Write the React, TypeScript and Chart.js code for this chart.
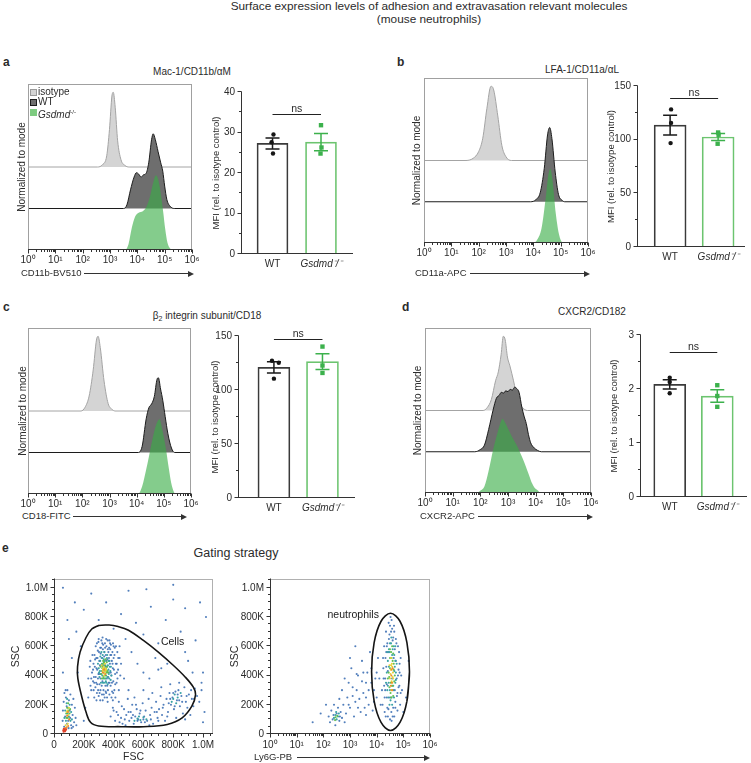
import React, { useEffect, useRef } from 'react';
import { Chart, registerables } from 'chart.js';

Chart.register(...registerables);

const FONT = '"Liberation Sans", Arial, Helvetica, sans-serif';
const INK = '#2b2b2b';
Chart.defaults.font.family = FONT;
Chart.defaults.color = INK;

/* ===================== DATA ===================== */
const GROUPS = ['WT', 'Gsdmd⁻/⁻'];

const LOG_TICKS = [1, 10, 100, 1000, 10000, 100000, 1000000];
const LOG_TICK_LABELS = ['10⁰', '10¹', '10²', '10³', '10⁴', '10⁵', '10⁶'];
const LOG_MINOR_TICKS = [0, 1, 2, 3, 4, 5].flatMap((e) => [2, 3, 4, 5, 6, 7, 8, 9].map((m) => m * 10 ** e));

// histograms: [log10 fluorescence, height relative to mode]
const cd11bIso = [[0, 0], [2.55, 0], [2.72, 0.03], [2.88, 0.15], [2.98, 0.5], [3.07, 0.95], [3.12, 1], [3.19, 0.8], [3.28, 0.35], [3.4, 0.1], [3.55, 0.02], [3.7, 0], [6, 0]];
const cd11bWT = [[0, 0], [3.5, 0], [3.62, 0.05], [3.75, 0.25], [3.88, 0.42], [3.97, 0.48], [4.05, 0.46], [4.14, 0.42], [4.22, 0.45], [4.32, 0.47], [4.42, 0.62], [4.52, 0.92], [4.58, 1], [4.66, 0.92], [4.76, 0.76], [4.85, 0.62], [4.93, 0.5], [5, 0.3], [5.08, 0.12], [5.2, 0.03], [5.35, 0], [6, 0]];
const cd11bKO = [[0, 0], [3.55, 0], [3.68, 0.08], [3.8, 0.3], [3.92, 0.45], [4.05, 0.5], [4.2, 0.52], [4.32, 0.57], [4.45, 0.7], [4.58, 0.9], [4.68, 1], [4.78, 0.92], [4.88, 0.7], [4.95, 0.5], [5.02, 0.28], [5.1, 0.1], [5.2, 0.02], [5.3, 0], [6, 0]];

const cd11aIso = [[0, 0], [1.5, 0], [1.8, 0.03], [2.0, 0.12], [2.15, 0.3], [2.3, 0.7], [2.45, 1], [2.55, 0.95], [2.7, 0.6], [2.85, 0.2], [3.0, 0.05], [3.2, 0], [6, 0]];
const cd11aWT = [[0, 0], [3.9, 0], [4.1, 0.03], [4.25, 0.12], [4.4, 0.45], [4.52, 0.9], [4.6, 1], [4.68, 0.85], [4.8, 0.4], [4.92, 0.1], [5.05, 0.02], [5.15, 0], [6, 0]];
const cd11aKO = [[0, 0], [4.0, 0], [4.15, 0.05], [4.3, 0.2], [4.45, 0.6], [4.55, 0.92], [4.62, 1], [4.7, 0.85], [4.82, 0.4], [4.95, 0.1], [5.1, 0], [6, 0]];

const cd18Iso = [[0, 0], [1.95, 0], [2.1, 0.05], [2.25, 0.2], [2.4, 0.55], [2.52, 0.95], [2.58, 1], [2.66, 0.85], [2.8, 0.4], [2.95, 0.1], [3.1, 0.02], [3.2, 0], [6, 0]];
const cd18WT = [[0, 0], [4.05, 0], [4.2, 0.08], [4.35, 0.45], [4.45, 0.6], [4.55, 0.65], [4.65, 0.75], [4.75, 0.98], [4.8, 1], [4.88, 0.85], [4.96, 0.7], [5.05, 0.48], [5.15, 0.25], [5.28, 0.06], [5.4, 0], [6, 0]];
const cd18KO = [[0, 0], [4.05, 0], [4.2, 0.1], [4.34, 0.31], [4.45, 0.5], [4.59, 0.75], [4.72, 0.93], [4.84, 1], [4.95, 0.85], [5.08, 0.6], [5.18, 0.35], [5.27, 0.15], [5.38, 0.02], [5.45, 0], [6, 0]];

const cxcr2Iso = [[0, 0], [2.1, 0], [2.25, 0.04], [2.4, 0.15], [2.55, 0.4], [2.65, 0.52], [2.75, 0.75], [2.83, 1], [2.9, 0.95], [2.98, 0.72], [3.07, 0.6], [3.2, 0.4], [3.35, 0.15], [3.5, 0.05], [3.7, 0], [6, 0]];
const cxcr2WT = [[0, 0], [1.8, 0], [2.0, 0.03], [2.15, 0.09], [2.3, 0.3], [2.46, 0.56], [2.58, 0.72], [2.68, 0.76], [2.76, 0.8], [2.84, 0.79], [2.92, 0.82], [3.0, 0.81], [3.08, 0.84], [3.16, 0.83], [3.24, 0.87], [3.32, 0.85], [3.4, 0.8], [3.5, 0.6], [3.58, 0.48], [3.66, 0.38], [3.74, 0.23], [3.82, 0.12], [3.95, 0.05], [4.06, 0.02], [4.2, 0], [6, 0]];
const cxcr2KO = [[0, 0], [1.85, 0], [2.0, 0.03], [2.15, 0.09], [2.3, 0.3], [2.46, 0.58], [2.64, 0.84], [2.75, 0.97], [2.8, 1], [2.88, 0.96], [2.95, 0.91], [3.05, 0.83], [3.14, 0.76], [3.23, 0.7], [3.32, 0.64], [3.42, 0.56], [3.5, 0.49], [3.6, 0.4], [3.69, 0.31], [3.78, 0.22], [3.87, 0.13], [3.96, 0.07], [4.06, 0.04], [4.18, 0], [6, 0]];

// MFI (rel. to isotype control), individual mice
const cd11bMfiWT = [29.5, 27.6, 24.8];
const cd11bMfiKO = [31.8, 26.3, 24.8];
const cd11aMfiWT = [128.2, 115.6, 96.8];
const cd11aMfiKO = [106.7, 104.6, 96.2];
const cd18MfiWT = [127.1, 125.3, 110.5];
const cd18MfiKO = [140.2, 122.7, 115.8];
const cxcr2MfiWT = [2.21, 2.13, 1.92];
const cxcr2MfiKO = [2.07, 1.87, 1.67];

const cd11bYTicks = [0, 10, 20, 30, 40];
const cd11bYMinor = [5, 15, 25, 35];
const cd11aYTicks = [0, 50, 100, 150];
const cd11aYMinor = [25, 75, 125];
const cd18YTicks = [0, 50, 100, 150];
const cd18YMinor = [25, 75, 125];
const cxcr2YTicks = [0, 1, 2, 3];
const cxcr2YMinor = [0.5, 1.5, 2.5];

// gating plots
const SCATTER_TICKS = [0, 200000, 400000, 600000, 800000, 1000000];
const SCATTER_TICK_LABELS = ['0', '200K', '400K', '600K', '800K', '1.0M'];
const SCATTER_MINOR = [50, 100, 150, 250, 300, 350, 450, 500, 550, 650, 700, 750, 850, 900, 950, 1050].map((k) => k * 1000);

// FSC (K) / SSC (K)
const fscBlue = [
  [250, 300], [255, 420], [262, 360], [265, 480], [270, 250], [272, 540], [278, 320], [280, 600], [285, 450], [288, 280], [292, 520], [295, 380], [298, 630], [300, 260], [302, 560], [305, 340], [308, 470], [310, 590], [312, 300], [315, 410], [318, 640], [320, 520], [322, 270], [325, 360], [328, 580], [330, 610], [332, 300], [335, 490], [338, 560], [340, 250], [342, 620], [345, 330], [348, 540], [350, 280], [352, 600], [355, 380], [358, 510], [360, 640], [362, 300], [365, 560], [368, 420], [370, 590], [372, 270], [375, 480], [378, 540], [380, 330], [382, 610], [385, 400], [388, 500], [390, 290], [392, 560], [395, 450], [398, 360], [400, 520], [405, 300], [408, 590], [410, 410], [415, 480], [420, 350], [425, 560], [430, 440], [435, 300], [440, 520], [268, 390], [276, 510], [283, 350], [290, 440], [296, 300], [303, 410], [313, 550], [327, 230], [344, 460], [356, 250], [366, 350], [376, 620], [386, 250], [396, 620], [412, 250], [422, 420], [230, 380], [240, 460], [245, 330],
  [262, 440], [270, 350], [274, 460], [280, 390], [284, 520], [290, 340], [294, 570], [298, 410], [304, 500], [306, 280], [312, 380], [316, 590], [320, 330], [324, 620], [328, 470], [334, 270], [337, 530], [343, 590], [347, 290], [351, 500], [357, 330], [361, 580], [364, 390], [369, 520], [373, 350], [377, 580], [381, 420], [384, 540], [389, 350], [393, 480], [397, 280], [402, 440], [406, 540], [411, 340], [416, 600], [421, 480], [426, 380], [431, 520], [258, 540], [266, 300], [288, 620], [300, 650], [326, 660], [350, 650], [372, 640], [400, 600], [445, 400], [450, 480], [285, 230], [310, 230], [360, 220], [395, 230], [250, 380], [244, 500],
  [60, 160], [65, 220], [70, 280], [75, 120], [80, 250], [85, 190], [90, 300], [95, 90], [100, 230], [105, 160], [110, 270], [115, 60], [120, 200], [125, 130], [130, 240], [135, 80], [140, 180], [58, 90], [68, 50], [78, 300], [88, 70], [98, 40], [108, 110], [118, 40], [128, 50], [145, 110], [150, 60],
  [380, 120], [395, 180], [410, 90], [420, 150], [435, 220], [450, 110], [460, 70], [470, 170], [485, 130], [495, 240], [505, 90], [515, 150], [525, 200], [535, 70], [545, 120], [555, 170], [565, 100], [575, 140], [585, 80], [595, 210], [605, 120], [615, 160], [625, 90], [635, 240], [645, 130], [655, 180], [665, 70], [675, 150], [685, 220], [695, 110], [705, 170], [715, 260], [725, 130], [735, 200], [745, 90], [755, 240], [765, 150], [775, 280], [785, 200], [795, 250], [805, 170], [815, 290], [825, 230], [835, 300], [845, 190], [855, 260], [865, 140], [875, 320], [885, 220], [895, 180], [905, 270], [915, 130], [925, 240], [935, 190], [945, 310], [960, 260], [975, 220], [990, 300], [440, 80], [480, 60], [520, 110], [560, 90], [600, 100], [640, 60], [700, 90], [760, 120], [820, 110], [880, 100], [540, 250], [600, 300], [660, 280], [720, 320], [780, 340], [840, 350],
  [400, 160], [430, 130], [455, 190], [475, 100], [500, 150], [530, 130], [550, 200], [580, 160], [610, 80], [650, 100], [690, 150], [730, 180], [770, 210], [800, 280], [830, 270], [860, 220], [890, 260], [920, 300], [940, 240], [810, 190], [780, 240], [840, 230],
  [150, 700], [200, 850], [250, 960], [300, 780], [350, 900], [400, 720], [450, 820], [500, 980], [550, 760], [600, 680], [650, 870], [700, 620], [750, 780], [800, 920], [850, 700], [900, 500], [950, 640], [1000, 420], [1020, 800], [980, 900], [120, 520], [160, 420], [180, 600], [140, 900], [60, 1000], [90, 780], [210, 180], [230, 250], [200, 90], [480, 650], [520, 560], [560, 480], [600, 420], [640, 380], [680, 520], [720, 450], [760, 480], [880, 560], [930, 420], [990, 350], [1010, 150], [1000, 80], [470, 380], [500, 300], [440, 600], [60, 420], [100, 650], [800, 1020], [620, 990], [700, 440], [880, 860],
];
const fscTeal = [
  [300, 450], [305, 390], [310, 500], [315, 350], [320, 430], [322, 480], [325, 520], [330, 380], [332, 440], [336, 350], [340, 500], [342, 400], [345, 470], [348, 360], [352, 430], [355, 520], [358, 390], [362, 470], [365, 440], [370, 380], [372, 500], [378, 430], [382, 460], [318, 560], [338, 560], [308, 430], [360, 340], [295, 480], [385, 400],
  [302, 420], [312, 410], [316, 470], [324, 400], [328, 350], [334, 510], [346, 380], [350, 350], [354, 460], [366, 500], [368, 410], [374, 460], [380, 370], [311, 530], [327, 540], [357, 540],
  [75, 160], [80, 90], [85, 210], [90, 140], [95, 180], [100, 120], [105, 200], [110, 90], [115, 150], [88, 240], [120, 100], [70, 110],
  [560, 105], [580, 95], [600, 115], [540, 90], [620, 100], [800, 240], [810, 270], [830, 250], [790, 220], [820, 210], [850, 280], [570, 120],
];
const fscGreen = [
  [318, 410], [326, 460], [333, 420], [338, 470], [344, 430], [350, 400], [356, 460], [340, 380], [330, 500], [346, 510], [362, 420], [322, 380], [312, 460], [354, 490],
  [324, 450], [332, 390], [336, 490], [348, 450], [352, 420], [358, 430], [328, 480], [342, 450],
  [82, 140], [88, 180], [92, 110], [98, 160], [104, 140], [84, 110], [108, 170], [95, 210],
];
const fscYellow = [[330, 440], [338, 420], [345, 450], [335, 400], [325, 430], [342, 480], [350, 440], [320, 470], [334, 460], [346, 430], [340, 440], [328, 450], [90, 160], [96, 130], [86, 150], [100, 180], [78, 60], [92, 70]];
const fscOrange = [[336, 440], [344, 410], [328, 420], [88, 125], [94, 150], [75, 40], [85, 45], [95, 55], [102, 100]];
const fscRed = [[62, 25], [68, 20], [72, 30], [78, 25], [66, 35], [74, 18], [82, 32], [64, 15]];

// Ly6G (log10) / SSC (K)
const ly6gBlue = [
  [4.2, 300], [4.25, 450], [4.22, 200], [4.28, 600], [4.3, 150], [4.32, 380], [4.35, 700], [4.33, 520], [4.38, 250], [4.4, 620], [4.42, 120], [4.45, 760], [4.48, 680], [4.5, 100], [4.52, 800], [4.55, 150], [4.58, 720], [4.6, 640], [4.62, 180], [4.65, 740], [4.68, 580], [4.7, 220], [4.72, 500], [4.75, 380], [4.78, 280], [4.8, 600], [4.82, 440], [4.85, 330], [4.88, 200], [4.9, 520], [4.92, 400], [4.95, 300], [4.36, 460], [4.26, 380], [4.44, 560], [4.74, 620], [4.86, 480], [4.3, 250], [4.56, 90], [4.66, 120], [4.4, 180], [4.34, 120], [4.78, 160], [4.84, 560], [4.24, 520],
  [4.32, 300], [4.38, 340], [4.36, 560], [4.42, 430], [4.46, 650], [4.5, 250], [4.54, 700], [4.58, 380], [4.62, 660], [4.64, 520], [4.68, 300], [4.72, 650], [4.76, 260], [4.8, 400], [4.82, 320], [4.86, 420], [4.7, 180], [4.6, 120], [4.5, 740], [4.44, 170], [4.38, 600], [4.28, 330], [4.9, 280], [4.66, 700], [4.56, 780],
  [2.2, 120], [2.25, 80], [2.3, 160], [2.35, 100], [2.4, 200], [2.45, 60], [2.5, 140], [2.55, 180], [2.6, 90], [2.65, 150], [2.7, 110], [2.75, 200], [2.8, 80], [2.85, 140], [2.38, 130], [2.62, 120],
  [2.9, 250], [3.0, 180], [3.1, 320], [3.2, 220], [3.3, 400], [3.4, 150], [3.5, 280], [3.6, 350], [3.7, 200], [3.8, 450], [3.9, 300], [4.0, 250], [4.1, 380], [3.05, 450], [3.25, 300], [3.45, 500], [3.65, 420], [3.85, 160], [4.05, 520], [2.95, 350], [3.15, 120], [3.35, 240], [3.55, 180], [3.75, 560], [3.95, 380], [4.15, 200], [3.0, 520], [3.5, 420], [2.7, 300], [2.8, 380], [2.1, 200], [1.6, 80], [1.9, 140], [5.1, 250], [5.2, 500], [5.0, 150], [3.2, 600], [3.6, 130], [2.6, 240],
  [3.1, 260], [3.3, 180], [3.45, 360], [3.7, 300], [3.9, 220], [4.0, 420], [3.8, 350], [3.6, 250], [2.95, 200], [3.25, 410],
];
const ly6gTeal = [
  [4.35, 350], [4.38, 420], [4.4, 300], [4.42, 500], [4.44, 250], [4.46, 580], [4.48, 200], [4.5, 620], [4.55, 660], [4.6, 580], [4.65, 250], [4.68, 460], [4.7, 350], [4.72, 420], [4.66, 540], [4.4, 560], [4.52, 230], [4.62, 300], [4.75, 480], [4.58, 200], [4.45, 350], [4.7, 600],
  [4.42, 330], [4.46, 460], [4.5, 300], [4.54, 620], [4.58, 540], [4.62, 330], [4.66, 430], [4.72, 370], [4.48, 560], [4.56, 250], [4.64, 600], [4.7, 500],
  [2.4, 110], [2.45, 130], [2.5, 100], [2.55, 120], [2.48, 150], [2.58, 140],
];
const ly6gGreen = [[4.45, 420], [4.48, 320], [4.5, 520], [4.52, 280], [4.54, 560], [4.56, 330], [4.6, 500], [4.62, 260], [4.64, 440], [4.66, 360], [4.42, 380], [4.58, 600], [4.5, 450], [4.68, 400], [4.47, 390], [4.52, 350], [4.56, 520], [4.6, 330], [4.64, 480], [4.62, 550], [4.54, 250], [4.5, 580], [2.46, 115], [2.52, 125], [2.44, 95]];
const ly6gYellow = [[4.5, 380], [4.53, 440], [4.55, 300], [4.57, 480], [4.59, 350], [4.61, 420], [4.54, 520], [4.62, 380], [4.48, 470], [4.52, 410], [4.58, 460], [4.56, 360], [4.6, 390], [4.54, 470]];
const ly6gOrange = [[4.55, 400], [4.57, 350], [4.53, 330], [4.6, 450], [4.56, 440], [4.58, 300]];

// gate outlines
const cellsGate = [[300, 742], [370, 745], [430, 735], [500, 710], [600, 640], [700, 560], [800, 470], [880, 390], [935, 320], [950, 270], [925, 190], [860, 110], [760, 65], [600, 50], [450, 50], [300, 55], [245, 80], [215, 150], [185, 260], [160, 380], [158, 460], [175, 560], [215, 660], [255, 720]];
const neutroGate = [[5.23, 425], [5.135, 625], [4.875, 771], [4.52, 826], [4.165, 771], [3.905, 625], [3.81, 425], [3.905, 225], [4.165, 79], [4.52, 24], [4.875, 79], [5.135, 225]];

/* ===================== HELPERS ===================== */
const mean = (a: number[]) => a.reduce((s, v) => s + v, 0) / a.length;
const sem = (a: number[]) => {
  const m = mean(a);
  return Math.sqrt(a.reduce((s, v) => s + (v - m) ** 2, 0) / (a.length - 1)) / Math.sqrt(a.length);
};
const closed = (p: number[][]) => [p[p.length - 1], ...p, p[0]];

const decor = {
  id: 'decor',
  afterDatasetDraw(chart: any, args: any, o: any) {
    if (!o || !o.err || args.index !== o.errAfter) return;
    const { ctx } = chart;
    const sx = chart.scales.x, sy = chart.scales.y;
    ctx.save();
    ctx.lineWidth = 1.5;
    o.err.forEach((e: any) => {
      const px = sx.getPixelForValue(e.x);
      const yt = sy.getPixelForValue(e.mean + e.sem);
      const yb = sy.getPixelForValue(e.mean - e.sem);
      ctx.strokeStyle = e.color;
      ctx.beginPath();
      ctx.moveTo(px, yt); ctx.lineTo(px, yb);
      ctx.moveTo(px - o.cap, yt); ctx.lineTo(px + o.cap, yt);
      ctx.moveTo(px - o.cap, yb); ctx.lineTo(px + o.cap, yb);
      ctx.stroke();
    });
    ctx.restore();
  },
  afterDraw(chart: any, _a: any, o: any) {
    if (!o) return;
    const { ctx, chartArea: a } = chart;
    const sx = chart.scales.x, sy = chart.scales.y;
    ctx.save();
    ctx.lineWidth = 1;
    if (o.frame) {
      ctx.strokeStyle = o.frame;
      ctx.strokeRect(Math.round(a.left) + 0.5, Math.round(a.top) + 0.5, Math.round(a.right - a.left) - 1, Math.round(a.bottom - a.top) - 1);
    }
    const b = Math.round(a.bottom) - 0.5;
    const l = Math.round(a.left) + 0.5;
    ctx.strokeStyle = o.axisColor || '#333';
    ctx.beginPath();
    if (o.axisX) { ctx.moveTo(a.left, b); ctx.lineTo(a.right, b); }
    if (o.axisY) { ctx.moveTo(l, a.top - 0.5); ctx.lineTo(l, a.bottom); }
    const tx = (vals: number[], len: number) => vals.forEach((v) => {
      const p = Math.round(sx.getPixelForValue(v)) + 0.5;
      ctx.moveTo(p, b); ctx.lineTo(p, b + len);
    });
    const ty = (vals: number[], len: number) => vals.forEach((v) => {
      const p = Math.round(sy.getPixelForValue(v)) - 0.5;
      ctx.moveTo(l, p); ctx.lineTo(l - len, p);
    });
    tx(o.xMajor || [], 4); tx(o.xMinor || [], 2.5);
    ty(o.yMajor || [], 4); ty(o.yMinor || [], 2.5);
    ctx.stroke();
    if (o.ns) {
      const y = Math.round(sy.getPixelForValue(o.ns.y)) + 0.5;
      const x0 = sx.getPixelForValue(o.ns.from), x1 = sx.getPixelForValue(o.ns.to);
      ctx.strokeStyle = '#222';
      ctx.beginPath(); ctx.moveTo(x0, y); ctx.lineTo(x1, y); ctx.stroke();
      ctx.fillStyle = INK;
      ctx.font = `10.5px ${FONT}`;
      ctx.textAlign = 'center';
      ctx.textBaseline = 'alphabetic';
      ctx.fillText('ns', (x0 + x1) / 2, y - 3);
    }
    (o.notes || []).forEach((n: any) => {
      ctx.fillStyle = '#1a1a1a';
      ctx.font = `10.5px ${FONT}`;
      ctx.textAlign = 'center';
      ctx.textBaseline = 'middle';
      ctx.fillText(n.text, sx.getPixelForValue(n.x), sy.getPixelForValue(n.y));
    });
    ctx.restore();
  },
};

const NOGRID = { display: false, drawTicks: false };
const NOBORDER = { display: false };
const base = (m: any) => ({
  animation: false,
  responsive: false,
  events: [],
  layout: { padding: { top: m.t, right: m.r, left: 0, bottom: 0 } },
});

/* ===================== CONFIG BUILDERS ===================== */
const ISO_STYLE = { borderColor: '#a4a4a4', borderWidth: 1, backgroundColor: '#d4d4d4' };
const WT_STYLE = { borderColor: '#1c1c1c', borderWidth: 1, backgroundColor: '#6e6e6e' };
const KO_STYLE = { borderColor: 'rgba(0,0,0,0)', borderWidth: 0, backgroundColor: 'rgba(56,172,70,0.62)' };
const TICK_FONT = { size: 10 };

function histConfig(iso: number[][], wt: number[][], ko: number[][], m: any) {
  const PEAK = 1.8;
  const mk = (rows: number[][], off: number, style: any) => ({
    data: rows.map(([lx, h]) => ({ x: 10 ** lx, y: off + h * PEAK })),
    fill: { value: off },
    pointRadius: 0,
    cubicInterpolationMode: 'monotone',
    ...style,
  });
  return {
    type: 'line',
    data: { datasets: [mk(ko, 0, KO_STYLE), mk(wt, 1, WT_STYLE), mk(iso, 2, ISO_STYLE)] },
    options: {
      ...base(m),
      plugins: {
        legend: { display: false }, tooltip: { enabled: false },
        decor: { frame: '#a0a0a0', axisX: true, axisColor: '#333', xMajor: LOG_TICKS, xMinor: LOG_MINOR_TICKS },
      },
      scales: {
        x: {
          type: 'logarithmic', min: 1, max: 1e6, grid: NOGRID, border: NOBORDER,
          ticks: { padding: 4, color: INK, font: TICK_FONT, autoSkip: false, maxRotation: 0, callback: (v: number) => LOG_TICK_LABELS[LOG_TICKS.indexOf(v)] ?? '' },
          afterBuildTicks: (s: any) => { s.ticks = LOG_TICKS.map((v) => ({ value: v })); },
          afterFit: (s: any) => { s.height = m.b; s.paddingLeft = 0; s.paddingRight = 0; },
        },
        y: {
          min: 0, max: 4, grid: NOGRID, border: NOBORDER, ticks: { display: false },
          title: { display: true, text: 'Normalized to mode', color: INK, font: { size: 10 }, padding: 0 },
          afterFit: (s: any) => { s.width = m.l; },
        },
      },
    },
  };
}

function barConfig(s: any, m: any) {
  return {
    type: 'bar',
    data: {
      datasets: [
        { type: 'scatter', data: s.wt.map((v: number, i: number) => ({ x: 0 + s.jit[0][i], y: v })), pointStyle: 'circle', pointRadius: 2.2, backgroundColor: '#161616', borderWidth: 0 },
        { type: 'scatter', data: s.ko.map((v: number, i: number) => ({ x: 1 + s.jit[1][i], y: v })), pointStyle: 'rect', pointRadius: 3.1, backgroundColor: '#3cb14c', borderWidth: 0 },
        {
          type: 'bar', data: [{ x: 0, y: mean(s.wt) }, { x: 1, y: mean(s.ko) }],
          backgroundColor: '#ffffff', borderColor: ['#3a3a3a', '#6cc46f'], borderWidth: 1.7, barThickness: s.barW,
        },
      ],
    },
    options: {
      ...base(m),
      plugins: {
        legend: { display: false }, tooltip: { enabled: false },
        decor: {
          axisX: true, axisY: true, axisColor: '#333', yMajor: s.yTicks, yMinor: s.yMinor,
          ns: { y: s.nsY, from: 0, to: 1 }, errAfter: 2, cap: 7,
          err: [
            { x: 0, mean: mean(s.wt), sem: sem(s.wt), color: '#1a1a1a' },
            { x: 1, mean: mean(s.ko), sem: sem(s.ko), color: '#3cb14c' },
          ],
        },
      },
      scales: {
        x: {
          type: 'linear', min: s.xMin, max: s.xMax, offset: false, grid: NOGRID, border: NOBORDER,
          ticks: {
            padding: 4, color: INK, autoSkip: false, maxRotation: 0,
            font: (c: any) => ({ family: FONT, size: 10, style: c.index === 1 ? 'italic' : 'normal' }),
            callback: (v: number) => GROUPS[v] ?? '',
          },
          afterBuildTicks: (sc: any) => { sc.ticks = GROUPS.map((_, i) => ({ value: i })); },
          afterFit: (sc: any) => { sc.height = m.b; sc.paddingLeft = 0; sc.paddingRight = 0; },
        },
        y: {
          min: 0, max: s.yTicks[s.yTicks.length - 1], grid: NOGRID, border: NOBORDER,
          ticks: { padding: 6, color: INK, font: TICK_FONT, callback: (v: number) => String(v) },
          afterBuildTicks: (sc: any) => { sc.ticks = s.yTicks.map((v: number) => ({ value: v })); },
          title: { display: true, text: 'MFI (rel. to isotype control)', color: INK, font: { size: 9.5 }, padding: 0 },
          afterFit: (sc: any) => { sc.width = m.l; },
        },
      },
    },
  };
}

const DENSITY = ['#e2432b', '#f08c2a', '#e7d23a', '#62bf52', '#3aa3a6', 'rgba(52,104,176,0.85)'];

function scatterConfig(s: any, m: any) {
  const layers = s.layers.map((pts: any[], i: number) => ({
    data: pts.map(([x, y]: number[]) => ({ x: s.log ? 10 ** x : x * 1000, y: y * 1000 })),
    pointRadius: 1.05, borderWidth: 0, backgroundColor: DENSITY[i],
  }));
  const gate = {
    type: 'line', data: closed(s.gate).map(([x, y]) => ({ x: s.log ? 10 ** x : x * 1000, y: y * 1000 })),
    showLine: true, borderColor: '#151515', borderWidth: 1.6, pointRadius: 0, tension: 0.35, fill: false,
  };
  return {
    type: 'scatter',
    data: { datasets: [gate, ...layers] },
    options: {
      ...base(m),
      plugins: {
        legend: { display: false }, tooltip: { enabled: false },
        decor: {
          frame: '#b0b0b0', axisX: true, axisY: true, axisColor: '#333',
          xMajor: s.log ? LOG_TICKS : SCATTER_TICKS, xMinor: s.log ? LOG_MINOR_TICKS : SCATTER_MINOR,
          yMajor: SCATTER_TICKS, yMinor: SCATTER_MINOR, notes: [s.note],
        },
      },
      scales: {
        x: s.log ? {
          type: 'logarithmic', min: 1, max: 1e6, grid: NOGRID, border: NOBORDER,
          ticks: { padding: 5, color: INK, font: TICK_FONT, autoSkip: false, maxRotation: 0, callback: (v: number) => LOG_TICK_LABELS[LOG_TICKS.indexOf(v)] ?? '' },
          afterBuildTicks: (sc: any) => { sc.ticks = LOG_TICKS.map((v) => ({ value: v })); },
          afterFit: (sc: any) => { sc.height = m.b; sc.paddingLeft = 0; sc.paddingRight = 0; },
        } : {
          type: 'linear', min: 0, max: s.xMax, grid: NOGRID, border: NOBORDER,
          ticks: { padding: 5, color: INK, font: TICK_FONT, autoSkip: false, maxRotation: 0, callback: (v: number) => SCATTER_TICK_LABELS[SCATTER_TICKS.indexOf(v)] ?? '' },
          afterBuildTicks: (sc: any) => { sc.ticks = SCATTER_TICKS.map((v) => ({ value: v })); },
          title: { display: true, text: 'FSC', color: INK, font: { size: 10.5, lineHeight: 1 }, padding: 0 },
          afterFit: (sc: any) => { sc.height = m.b; sc.paddingLeft = 0; sc.paddingRight = 0; },
        },
        y: {
          type: 'linear', min: 0, max: s.yMax, grid: NOGRID, border: NOBORDER,
          ticks: { padding: 6, color: INK, font: TICK_FONT, callback: (v: number) => SCATTER_TICK_LABELS[SCATTER_TICKS.indexOf(v)] ?? '' },
          afterBuildTicks: (sc: any) => { sc.ticks = SCATTER_TICKS.map((v) => ({ value: v })); },
          title: { display: true, text: 'SSC', color: INK, font: { size: 10.5 }, padding: 0 },
          afterFit: (sc: any) => { sc.width = m.l; },
        },
      },
    },
  };
}

/* ===================== LAYOUT ===================== */
type Area = { x0: number; y0: number; x1: number; y1: number };
type Marg = { l: number; t: number; r: number; b: number };

function ChartBox({ area, m, build }: { area: Area; m: Marg; build: (m: Marg) => any }) {
  const ref = useRef<HTMLCanvasElement>(null);
  const w = area.x1 - area.x0 + m.l + m.r;
  const h = area.y1 - area.y0 + m.t + m.b;
  useEffect(() => {
    const cfg = build(m);
    cfg.plugins = [decor];
    const chart = new Chart(ref.current as HTMLCanvasElement, cfg);
    return () => chart.destroy();
  }, []);
  return (
    <canvas
      ref={ref}
      width={w}
      height={h}
      style={{ position: 'absolute', left: area.x0 - m.l, top: area.y0 - m.t, width: w, height: h }}
    />
  );
}

function Txt({ x, y, size = 10, align = 'left', bold = false, children }: any) {
  const lh = size + 2;
  const style: any = {
    position: 'absolute', top: y - lh / 2, fontSize: size, lineHeight: `${lh}px`, whiteSpace: 'nowrap',
    fontWeight: bold ? 700 : 400, color: INK,
  };
  if (align === 'center') { style.left = x - 250; style.width = 500; style.textAlign = 'center'; } else { style.left = x; }
  return <div style={style}>{children}</div>;
}

function Arrow({ x0, x1, y }: { x0: number; x1: number; y: number }) {
  return (
    <>
      <div style={{ position: 'absolute', left: x0, top: y, width: x1 - x0 - 5, height: 1, background: '#333' }} />
      <div style={{ position: 'absolute', left: x1 - 6, top: y - 2.5, width: 0, height: 0, borderTop: '3px solid transparent', borderBottom: '3px solid transparent', borderLeft: '6px solid #333' }} />
    </>
  );
}

const KO_LABEL = (
  <>
    <i>Gsdmd</i>
    <sup style={{ fontSize: 6, verticalAlign: 4 }}>-/-</sup>
  </>
);

function Legend() {
  const items = [
    { bg: '#d4d4d4', bd: '#9a9a9a', label: 'isotype' },
    { bg: '#6e6e6e', bd: '#1c1c1c', label: 'WT' },
    { bg: '#7dcb80', bd: '#7dcb80', label: KO_LABEL },
  ];
  return (
    <>
      {items.map((it, i) => (
        <React.Fragment key={i}>
          <div style={{ position: 'absolute', left: 30, top: 89 + i * 10, width: 5, height: 5, background: it.bg, border: `1px solid ${it.bd}` }} />
          <Txt x={38} y={92 + i * 10} size={10}>{it.label}</Txt>
        </React.Fragment>
      ))}
    </>
  );
}

const A_HIST: Area = { x0: 28, y0: 84, x1: 192, y1: 250 };
const B_HIST: Area = { x0: 424, y0: 78, x1: 588, y1: 243 };
const C_HIST: Area = { x0: 28, y0: 328, x1: 191, y1: 494 };
const D_HIST: Area = { x0: 425, y0: 328, x1: 591, y1: 493 };
const A_BAR: Area = { x0: 241, y0: 86, x1: 353, y1: 254 };
const B_BAR: Area = { x0: 637, y0: 80, x1: 745, y1: 247 };
const C_BAR: Area = { x0: 238, y0: 330, x1: 355, y1: 498 };
const D_BAR: Area = { x0: 640, y0: 329, x1: 748, y1: 497 };
const E_LEFT: Area = { x0: 54, y0: 573, x1: 213, y1: 734 };
const E_RIGHT: Area = { x0: 270, y0: 573, x1: 430, y1: 734 };

export default function App() {
  return (
    <div style={{ position: 'absolute', left: 0, top: 0, width: 751, height: 763, overflow: 'hidden', background: '#fff', fontFamily: FONT, color: INK }}>
      <Txt x={429} y={6.5} size={11.8} align="center">Surface expression levels of adhesion and extravasation relevant molecules</Txt>
      <Txt x={429} y={19.5} size={11.8} align="center">(mouse neutrophils)</Txt>

      <Txt x={3} y={62} size={12} bold>a</Txt>
      <Txt x={397} y={62} size={12} bold>b</Txt>
      <Txt x={3} y={307} size={12} bold>c</Txt>
      <Txt x={402} y={307} size={12} bold>d</Txt>
      <Txt x={2} y={548} size={12} bold>e</Txt>

      <Txt x={192} y={72} size={10} align="center">Mac-1/CD11b/αM</Txt>
      <Txt x={582} y={70} size={10} align="center">LFA-1/CD11a/αL</Txt>
      <Txt x={207} y={316} size={10} align="center">β<sub style={{ fontSize: 7, verticalAlign: -2 }}>2</sub> integrin subunit/CD18</Txt>
      <Txt x={592} y={312} size={10} align="center">CXCR2/CD182</Txt>
      <Txt x={236} y={553} size={12.5} align="center">Gating strategy</Txt>

      <ChartBox area={A_HIST} m={{ l: 12, t: 4, r: 10, b: 16 }} build={(m) => histConfig(cd11bIso, cd11bWT, cd11bKO, m)} />
      <ChartBox area={B_HIST} m={{ l: 13, t: 4, r: 10, b: 16 }} build={(m) => histConfig(cd11aIso, cd11aWT, cd11aKO, m)} />
      <ChartBox area={C_HIST} m={{ l: 11, t: 4, r: 10, b: 16 }} build={(m) => histConfig(cd18Iso, cd18WT, cd18KO, m)} />
      <ChartBox area={D_HIST} m={{ l: 13, t: 4, r: 10, b: 16 }} build={(m) => histConfig(cxcr2Iso, cxcr2WT, cxcr2KO, m)} />

      <ChartBox area={A_BAR} m={{ l: 30, t: 6, r: 6, b: 16 }} build={(m) => barConfig({ wt: cd11bMfiWT, ko: cd11bMfiKO, yTicks: cd11bYTicks, yMinor: cd11bYMinor, nsY: 34.5, xMin: -0.65, xMax: 1.66, barW: 31, jit: [[0.02, -0.02, 0.01], [0, 0.01, -0.01]] }, m)} />
      <ChartBox area={B_BAR} m={{ l: 31, t: 6, r: 5, b: 16 }} build={(m) => barConfig({ wt: cd11aMfiWT, ko: cd11aMfiKO, yTicks: cd11aYTicks, yMinor: cd11aYMinor, nsY: 139, xMin: -0.69, xMax: 1.56, barW: 32, jit: [[0.02, 0.02, 0.01], [0, 0.01, -0.01]] }, m)} />
      <ChartBox area={C_BAR} m={{ l: 28, t: 6, r: 6, b: 16 }} build={(m) => barConfig({ wt: cd18MfiWT, ko: cd18MfiKO, yTicks: cd18YTicks, yMinor: cd18YMinor, nsY: 147, xMin: -0.74, xMax: 1.67, barW: 32, jit: [[-0.04, 0.1, 0.0], [0.0, 0.0, 0.0]] }, m)} />
      <ChartBox area={D_BAR} m={{ l: 31, t: 6, r: 3, b: 16 }} build={(m) => barConfig({ wt: cxcr2MfiWT, ko: cxcr2MfiKO, yTicks: cxcr2YTicks, yMinor: cxcr2YMinor, nsY: 2.68, xMin: -0.625, xMax: 1.625, barW: 32, jit: [[0, 0, 0], [0, 0, 0]] }, m)} />

      <ChartBox area={E_LEFT} m={{ l: 44, t: 6, r: 8, b: 28 }} build={(m) => scatterConfig({ log: false, xMax: 1067000, yMax: 1060000, gate: cellsGate, note: { x: 796000, y: 625000, text: 'Cells' }, layers: [fscRed, fscOrange, fscYellow, fscGreen, fscTeal, fscBlue] }, m)} />
      <ChartBox area={E_RIGHT} m={{ l: 41, t: 6, r: 8, b: 20 }} build={(m) => scatterConfig({ log: true, yMax: 1060000, gate: neutroGate, note: { x: 10 ** 3.12, y: 812000, text: 'neutrophils' }, layers: [[], ly6gOrange, ly6gYellow, ly6gGreen, ly6gTeal, ly6gBlue] }, m)} />

      <Legend />

      <Txt x={21} y={273} size={9.5}>CD11b-BV510</Txt>
      <Arrow x0={84} x1={194} y={273} />
      <Txt x={415} y={273} size={9.5}>CD11a-APC</Txt>
      <Arrow x0={470} x1={590} y={273} />
      <Txt x={22} y={516} size={9.5}>CD18-FITC</Txt>
      <Arrow x0={73} x1={187} y={516} />
      <Txt x={420} y={516} size={9.5}>CXCR2-APC</Txt>
      <Arrow x0={478} x1={593} y={516} />
      <Txt x={254} y={757} size={9.5}>Ly6G-PB</Txt>
      <Arrow x0={297} x1={430} y={757} />
    </div>
  );
}
